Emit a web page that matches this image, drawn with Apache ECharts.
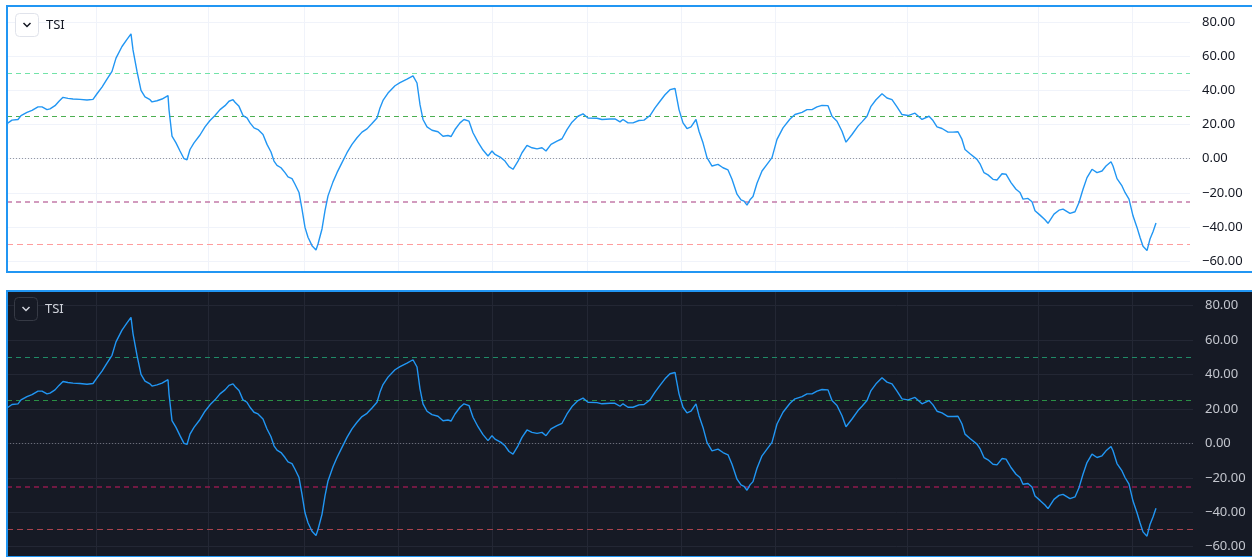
<!DOCTYPE html>
<html><head><meta charset="utf-8">
<script src="https://cdn.jsdelivr.net/npm/echarts@6/dist/echarts.min.js"></script>
<style>html,body{margin:0;padding:0;background:#fff}#c{width:1252px;height:557px}</style>
</head><body><div id="c"></div><script>
// bar index (time position) and TSI values
const barIdx = [0,5,11,14,20,25,31,35,40,43,48,52,56,61,66,73,80,86,90,95,100,105,109,115,120,124,126,130,134,138,143,145,150,155,161,162,165,169,173,177,180,183,187,193,198,203,208,213,218,222,226,228,232,236,240,243,247,251,256,260,264,267,270,274,278,281,285,288,292,295,298,301,305,309,311,315,318,321,326,330,335,340,345,350,355,360,365,370,373,376,381,388,393,400,406,410,413,416,420,425,431,436,441,444,448,453,457,462,466,471,476,481,485,488,494,498,502,506,511,515,520,525,530,535,539,544,550,555,560,565,571,576,581,590,595,597,603,608,613,616,621,626,632,637,643,648,653,658,663,668,670,672,676,680,684,689,692,696,700,705,711,716,721,725,730,734,737,740,743,746,750,755,760,765,770,776,783,788,795,800,805,810,815,821,825,830,835,839,845,851,855,860,864,869,875,880,885,890,895,901,908,915,922,926,930,935,941,946,951,955,958,963,970,973,977,981,986,990,995,999,1004,1009,1013,1016,1021,1025,1028,1033,1038,1041,1047,1052,1056,1063,1068,1072,1076,1080,1085,1090,1095,1099,1104,1106,1110,1115,1118,1122,1126,1130,1133,1136,1140,1143,1146,1149];
const tsi = [20.6,22.6,23,25.3,27.2,28.4,30.4,30.4,28.8,29.2,31.1,33.7,36,35.4,35,34.8,34.4,34.8,38.1,42,46.7,51.2,59,65.8,70,73.2,63.8,51.2,40.1,36.2,34.6,33.3,34,35,37,28.8,13.2,9.3,4.5,0,-0.6,5.4,9.3,13.9,18.7,22.4,25.3,28.8,31.1,33.7,34.6,33.1,30.7,25.3,23.9,21,18.1,17.1,14.2,8.4,3.9,-1.4,-3.9,-5.3,-8.2,-10.7,-11.7,-15,-19.8,-29.6,-40.3,-46.1,-51,-53.5,-50,-41.2,-30.5,-21.8,-13.6,-8.2,-2.3,3.5,8.4,12.3,15.6,17.5,20.6,23.9,29.8,34.2,38.5,42.8,44.6,46.7,48.6,44.4,31.7,23,18.7,16.7,15.8,13.2,13.6,13,17.1,21,23,22,15.2,9.7,5.1,1.6,4.5,2.5,0.6,-1.4,-4.7,-6.2,-1.4,3.5,7.8,6.4,5.8,6.4,4.5,8.4,10.3,11.7,17.1,21.4,24.9,26.3,23.9,23.7,23,23.9,23.3,23.3,21.6,23,21,21,22.4,22.6,25.3,29.8,33.7,37.5,40.5,41.2,42,28.8,21,17.7,18.7,23,16.1,9.3,0.6,-4.3,-3.3,-5.3,-6.6,-12.1,-20.8,-24.1,-24.9,-27.2,-24.1,-22.2,-14.4,-7.2,-3.3,0.6,11.3,18.1,23.3,25.9,27.2,28.8,28.8,30.4,31.3,31.1,24.9,22,16.1,9.7,14.2,19.1,21.6,24.9,30.7,34.6,38.1,35.6,34.6,30.4,25.9,25.3,26.7,23,24.9,22.4,18.7,17.7,15.6,15.6,15.8,11.3,5.4,2.9,-0.4,-3,-8.2,-9.5,-12.1,-12.5,-8.8,-9.1,-14,-17.9,-19.8,-23.7,-23.3,-25.3,-30.5,-33.1,-35.8,-37.9,-32.5,-30.2,-29.6,-32.1,-31.1,-25.7,-17.9,-11.1,-6.2,-8.2,-7.2,-4.3,-1.8,-4.3,-11.7,-16,-19.8,-23.7,-33.5,-40.3,-46.1,-51.4,-53.9,-47.1,-42.8,-37.7];
// time-axis grid positions (bar index)
const timeTicks = [89,201,297,391,485,580,674,768,900,1031,1125];
// TSI reference levels
const levels = [50, 25, 0, -25, -50];
const yMin = -60, yMax = 80, yStep = 20;
const title = 'TSI';

const themes = [
  { top: 22.3, h: 238.7, ftop: 7, fh: 264, right: 62, xMax: 1183,
    panelY: 6, panelH: 266, bg: '#ffffff', text: '#131722', split: '#f0f3fa', sep: '#e0e3eb', line: '#2196f3',
    lv: [ {c:'#72e3a8', w:1, t:[5,4]}, {c:'#4caf50', w:1, t:[5,4]}, {c:'#9598a1', w:1, t:[1,2]},
          {c:'#c47ba9', w:1.5, t:[5,4]}, {c:'#ff9c9c', w:1, t:[6,4]} ],
    box: {x:15, y:13}, boxStroke: '#e0e3eb', boxFill: '#ffffff', chev: '#131722' },
  { top: 305.7, h: 241, ftop: 292, fh: 264, right: 59, xMax: 1186,
    panelY: 291, panelH: 266, bg: '#161a25', text: '#c3c6ce', split: '#232734', sep: '#2a2e39', line: '#2196f3',
    lv: [ {c:'#1f8a66', w:1, t:[5,4]}, {c:'#2a8f45', w:1, t:[5,4]}, {c:'#6a6d78', w:1, t:[1,2]},
          {c:'#8e1a4c', w:1.5, t:[5,4]}, {c:'#a8424d', w:1, t:[6,4]} ],
    box: {x:14, y:297}, boxStroke: '#363a45', boxFill: '#161a25', chev: '#d1d4dc' }
];

function fmt(v) { return (v < 0 ? '\u2212' : '') + Math.abs(v).toFixed(2); }

const grid = [], xAxis = [], yAxis = [], series = [], graphic = [];
const points = barIdx.map((b, i) => [b, tsi[i]]);

themes.forEach((t, p) => {
  const g0 = grid.length;
  grid.push({ left: 7, right: t.right, top: t.top, height: t.h, containLabel: false });
  grid.push({ left: 7, right: t.right, top: t.ftop, height: t.fh, containLabel: false });
  // main axes
  xAxis.push({ type: 'value', gridIndex: g0, min: 0, max: t.xMax, show: false });
  yAxis.push({ type: 'value', gridIndex: g0, min: yMin, max: yMax, interval: yStep, position: 'right',
    axisLine: { show: false }, axisTick: { show: false },
    splitLine: { show: true, lineStyle: { color: t.split, width: 1 } },
    axisLabel: { show: true, align: 'left', margin: 12, color: t.text, fontSize: 13,
      fontFamily: 'Noto Sans', formatter: fmt } });
  // full-height pane axes (time grid + price scale separator)
  xAxis.push({ type: 'value', gridIndex: g0 + 1, min: 0, max: t.xMax, show: false });
  yAxis.push({ type: 'value', gridIndex: g0 + 1, min: 0, max: 1, position: 'right',
    axisLine: { show: true, lineStyle: { color: t.sep, width: 1 } },
    axisTick: { show: false }, axisLabel: { show: false }, splitLine: { show: false } });

  series.push({ type: 'line', xAxisIndex: g0 + 1, yAxisIndex: g0 + 1, z: 1, silent: true,
    data: [[0, 0]], symbol: 'none', lineStyle: { opacity: 0 },
    markLine: { silent: true, symbol: 'none', label: { show: false }, animation: false,
      lineStyle: { color: t.split, width: 1, type: 'solid' },
      data: timeTicks.map(v => ({ xAxis: v })) } });

  series.push({ type: 'line', xAxisIndex: g0, yAxisIndex: g0, z: 5, name: title,
    data: points, symbol: 'none', smooth: false,
    lineStyle: { color: t.line, width: 1.4 },
    markLine: { silent: true, symbol: 'none', label: { show: false }, animation: false,
      data: levels.map((v, k) => ({ yAxis: v, lineStyle: { color: t.lv[k].c, width: t.lv[k].w, type: t.lv[k].t } })) } });

  // pane background and border
  graphic.push({ type: 'rect', z: -100, silent: true,
    shape: { x: 7, y: t.panelY, width: 1252, height: t.panelH },
    style: { fill: t.bg } });
  graphic.push({ type: 'rect', z: 100, silent: true,
    shape: { x: 7, y: t.panelY, width: 1252, height: t.panelH },
    style: { fill: null, stroke: '#2196f3', lineWidth: 2 } });
  // legend
  graphic.push({ type: 'rect', z: 100, silent: true,
    shape: { x: t.box.x + 0.5, y: t.box.y + 0.5, width: 23, height: 23, r: 4 },
    style: { fill: t.boxFill, stroke: t.boxStroke, lineWidth: 1 } });
  graphic.push({ type: 'polyline', z: 101, silent: true,
    shape: { points: [[t.box.x + 8.5, t.box.y + 10], [t.box.x + 12, t.box.y + 13.5], [t.box.x + 15.5, t.box.y + 10]] },
    style: { stroke: t.chev, lineWidth: 1.5, fill: null } });
  graphic.push({ type: 'text', z: 101, silent: true,
    x: t.box.x + 31, y: t.box.y + 12,
    style: { text: title, fill: t.text === '#131722' ? '#131722' : '#d1d4dc', font: '13px "Noto Sans"', textVerticalAlign: 'middle', verticalAlign: 'middle' } });
});

const chart = echarts.init(document.getElementById('c'), null, { renderer: 'canvas' });
chart.setOption({ animation: false, backgroundColor: '#ffffff', grid, xAxis, yAxis, series, graphic });
</script></body></html>
